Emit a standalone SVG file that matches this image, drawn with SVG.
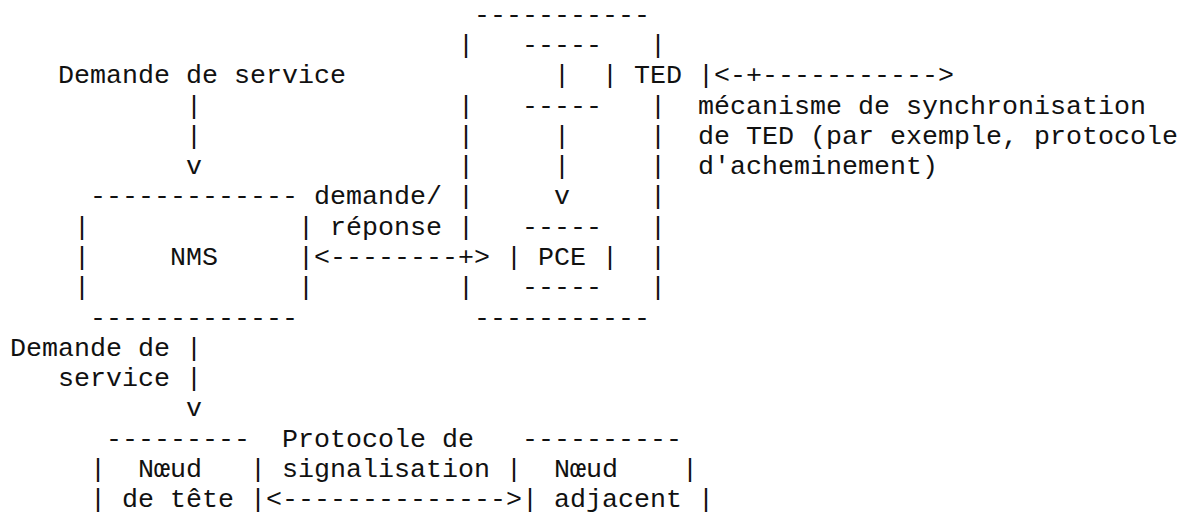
<svg xmlns="http://www.w3.org/2000/svg" width="1180" height="527" viewBox="0 0 1180 527">
<style>
text { font-family: "Liberation Mono", "DejaVu Sans Mono", monospace; font-size: 26.667px; fill: #111; }
</style>
<rect width="1180" height="527" fill="#fff"/>
<g id="label-demande-service-top">
<text x="58" y="83.3">Demande de service</text>
</g>
<g id="pce-server">
<text x="474" y="22.8">-----------</text>
<text x="458" y="53.1">|</text><text x="650" y="53.1">|</text>
<text x="458" y="113.6">|</text><text x="650" y="113.6">|</text>
<text x="458" y="143.9">|</text><text x="650" y="143.9">|</text>
<text x="458" y="174.2">|</text><text x="650" y="174.2">|</text>
<text x="458" y="204.4">|</text><text x="650" y="204.4">|</text>
<text x="458" y="234.7">|</text><text x="650" y="234.7">|</text>
<text x="650" y="265">|</text>
<text x="458" y="295.2">|</text><text x="650" y="295.2">|</text>
<text x="474" y="325.5">-----------</text>
</g>
<g id="ted">
<text x="522" y="53.1">-----</text>
<text x="554" y="83.3">|</text>
<text x="602" y="83.3">| TED |</text>
<text x="522" y="113.6">-----</text>
</g>
<g id="pce">
<text x="522" y="234.7">-----</text>
<text x="506" y="265">| PCE |</text>
<text x="522" y="295.2">-----</text>
</g>
<g id="nms">
<text x="90" y="204.4">-------------</text>
<text x="74" y="234.7">|</text><text x="298" y="234.7">|</text>
<text x="74" y="265">|</text><text x="170" y="265">NMS</text><text x="298" y="265">|</text>
<text x="74" y="295.2">|</text><text x="298" y="295.2">|</text>
<text x="90" y="325.5">-------------</text>
</g>
<g id="noeud-de-tete">
<text x="106" y="446.6">---------</text>
<text x="90" y="476.9">|</text><text x="138" y="476.9">Nœud</text><text x="250" y="476.9">|</text>
<text x="90" y="507.1">| de tête |</text>
</g>
<g id="noeud-adjacent">
<text x="522" y="446.6">----------</text>
<text x="506" y="476.9">|</text><text x="554" y="476.9">Nœud</text><text x="682" y="476.9">|</text>
<text x="522" y="507.1">| adjacent |</text>
</g>
<g id="connectors">
<text x="186" y="113.6">|</text>
<text x="186" y="143.9">|</text>
<text x="186" y="174.2">v</text>
<text x="714" y="83.3">&lt;-+-----------&gt;</text>
<text x="554" y="143.9">|</text>
<text x="554" y="174.2">|</text>
<text x="554" y="204.4">v</text>
<text x="314" y="265">&lt;--------+&gt;</text>
<text x="186" y="355.8">|</text>
<text x="186" y="386">|</text>
<text x="186" y="416.3">v</text>
<text x="266" y="507.1">&lt;--------------&gt;</text>
</g>
<g id="labels">
<text x="698" y="113.6">mécanisme de synchronisation</text>
<text x="698" y="143.9">de TED (par exemple, protocole</text>
<text x="698" y="174.2">d'acheminement)</text>
<text x="314" y="204.4">demande/</text>
<text x="330" y="234.7">réponse</text>
<text x="10" y="355.8">Demande de</text>
<text x="58" y="386">service</text>
<text x="282" y="446.6">Protocole de</text>
<text x="282" y="476.9">signalisation</text>
</g>
</svg>
